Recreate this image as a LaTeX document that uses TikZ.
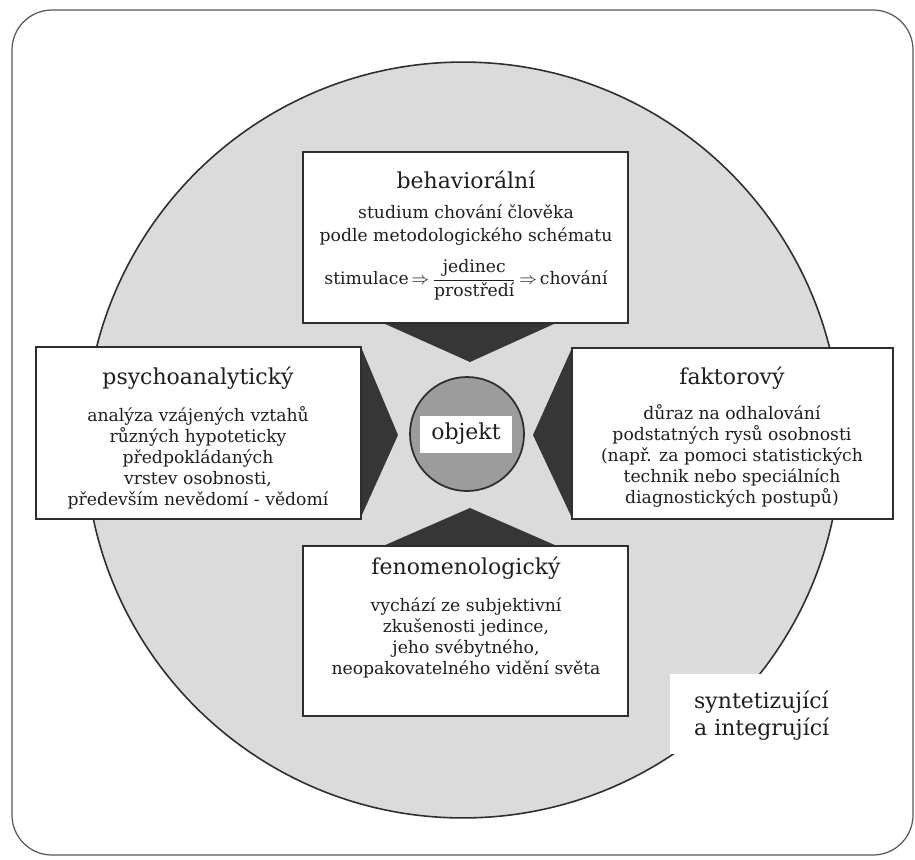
\documentclass[tikz,border=0pt]{standalone}
\usepackage{fontspec}
\setmainfont{DejaVu Serif}
\definecolor{ink}{HTML}{2E2E2E}
\definecolor{txt}{HTML}{1E1E1E}
\definecolor{bigfill}{HTML}{DBDBDB}
\definecolor{darkfill}{HTML}{363636}
\definecolor{midfill}{HTML}{9C9C9C}
\begin{document}
\begin{tikzpicture}[x=0.02cm,y=-0.02cm,
  box/.style={draw=ink,fill=white,line width=0.8pt,inner sep=0pt},
  ttl/.style={text=txt,font=\fontsize{12.5}{15}\selectfont},
  body/.style={text=txt,align=center,font=\fontsize{9.8}{12}\selectfont},
  dark/.style={fill=darkfill,draw=none}]
\useasboundingbox (0,0) rectangle (915,859);
% outer frame
\draw[draw=ink!80,line width=0.7pt,rounded corners=0.8cm] (12,10) rectangle (913,855);
% big circle
\node[circle,draw=ink,line width=0.9pt,fill=bigfill,minimum size=15.12cm,inner sep=0pt] (big) at (463,440) {};
% dark triangles
\fill[dark] (383,323) -- (556,323) -- (470,362) -- cycle;
\fill[dark] (361,347) -- (361,517) -- (398,435) -- cycle;
\fill[dark] (572,348) -- (572,518) -- (533,435) -- cycle;
\fill[dark] (383,546) -- (557,546) -- (470,508) -- cycle;
% center
\node[circle,draw=ink,line width=1pt,fill=midfill,minimum size=2.28cm,inner sep=0pt] (ctr) at (467,434) {};
\node[fill=white,minimum width=1.84cm,minimum height=0.74cm,inner sep=0pt,ttl] (obj) at (466,434) {objekt};
% boxes
\node[box,minimum width=6.5cm,minimum height=3.42cm] (topbox) at (465.5,237.5) {};
\node[box,minimum width=6.5cm,minimum height=3.44cm] (leftbox) at (198.5,433) {};
\node[box,minimum width=6.42cm,minimum height=3.42cm] (rightbox) at (732.5,433.5) {};
\node[box,minimum width=6.5cm,minimum height=3.4cm] (botbox) at (465.5,631) {};
% top box text
\node[ttl] (t1) at (466,180) {behaviorální};
\node[body,font=\fontsize{9.8}{13.6}\selectfont] (t2) at (466,225) {studium chování člověka\\podle metodologického schématu};
\node[body] (t3) at (466,280) {stimulace\,$\Rightarrow$\,$\displaystyle\frac{\hbox{jedinec}}{\hbox{prostředí}}$\,$\Rightarrow$\,chování};
% left box text
\node[ttl] (l1) at (198,378) {psychoanalytický};
\node[body] (l2) at (198,458) {analýza vzájených vztahů\\různých hypoteticky\\předpokládaných\\vrstev osobnosti,\\především nevědomí - vědomí};
% right box text
\node[ttl] (r1) at (732,378) {faktorový};
\node[body] (r2) at (732,456) {důraz na odhalování\\podstatných rysů osobnosti\\(např. za pomoci statistických\\technik nebo speciálních\\diagnostických postupů)};
% bottom box text
\node[ttl] (b1) at (466,568) {fenomenologický};
\node[body] (b2) at (466,638) {vychází ze subjektivní\\zkušenosti jedince,\\jeho svébytného,\\neopakovatelného vidění světa};
% syntetizujici
\fill[white] (670,674) rectangle (845,754);
\node[ttl,align=left,anchor=west,font=\fontsize{12.5}{15.3}\selectfont] (syn) at (688,716) {syntetizující\\a integrující};
\end{tikzpicture}
\end{document}
